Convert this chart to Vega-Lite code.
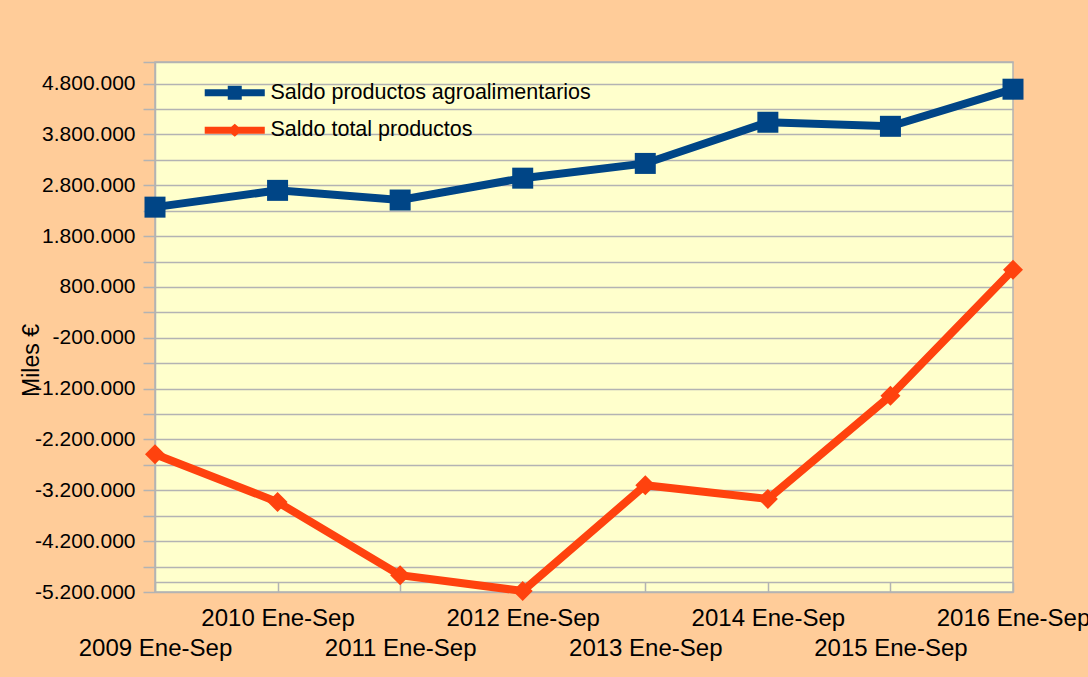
{
  "$schema": "https://vega.github.io/schema/vega-lite/v6.json",
  "width": 858,
  "height": 530,
  "autosize": {"type": "none"},
  "padding": {"left": 155, "top": 62, "right": 75, "bottom": 85},
  "background": "#FFCC99",
  "config": {
    "font": "Liberation Sans",
    "view": {"fill": "#FFFFCC", "stroke": "#B3B3B3", "strokeWidth": 1.5}
  },
  "data": {
    "values": [
      {"periodo": "2009 Ene-Sep", "serie": "Saldo productos agroalimentarios", "valor": 2370000},
      {"periodo": "2010 Ene-Sep", "serie": "Saldo productos agroalimentarios", "valor": 2700000},
      {"periodo": "2011 Ene-Sep", "serie": "Saldo productos agroalimentarios", "valor": 2510000},
      {"periodo": "2012 Ene-Sep", "serie": "Saldo productos agroalimentarios", "valor": 2940000},
      {"periodo": "2013 Ene-Sep", "serie": "Saldo productos agroalimentarios", "valor": 3230000},
      {"periodo": "2014 Ene-Sep", "serie": "Saldo productos agroalimentarios", "valor": 4040000},
      {"periodo": "2015 Ene-Sep", "serie": "Saldo productos agroalimentarios", "valor": 3960000},
      {"periodo": "2016 Ene-Sep", "serie": "Saldo productos agroalimentarios", "valor": 4690000},
      {"periodo": "2009 Ene-Sep", "serie": "Saldo total productos", "valor": -2490000},
      {"periodo": "2010 Ene-Sep", "serie": "Saldo total productos", "valor": -3430000},
      {"periodo": "2011 Ene-Sep", "serie": "Saldo total productos", "valor": -4870000},
      {"periodo": "2012 Ene-Sep", "serie": "Saldo total productos", "valor": -5180000},
      {"periodo": "2013 Ene-Sep", "serie": "Saldo total productos", "valor": -3100000},
      {"periodo": "2014 Ene-Sep", "serie": "Saldo total productos", "valor": -3370000},
      {"periodo": "2015 Ene-Sep", "serie": "Saldo total productos", "valor": -1340000},
      {"periodo": "2016 Ene-Sep", "serie": "Saldo total productos", "valor": 1140000}
    ]
  },
  "encoding": {
    "x": {
      "field": "periodo",
      "type": "ordinal",
      "scale": {"type": "point", "padding": 0},
      "axis": {
        "title": null,
        "offset": -10,
        "labelAngle": 0,
        "labelOverlap": false,
        "labelBound": false,
        "labelFlush": false,
        "labelFont": "Liberation Sans",
        "labelFontSize": 24,
        "labelColor": "#000000",
        "labelPadding": 14,
        "labelLineHeight": 30,
        "labelBaseline": "top",
        "labelExpr": "indexof(['2009 Ene-Sep','2011 Ene-Sep','2013 Ene-Sep','2015 Ene-Sep'], datum.value) >= 0 ? ['', datum.value] : datum.value",
        "domainColor": "#B3B3B3",
        "domainWidth": 1.5,
        "tickColor": "#B3B3B3",
        "tickWidth": 1.5,
        "tickSize": 10,
        "grid": false
      }
    },
    "y": {
      "field": "valor",
      "type": "quantitative",
      "scale": {"domain": [-5200000, 5225000], "nice": false, "zero": false},
      "axis": {
        "values": [-5200000, -4700000, -4200000, -3700000, -3200000, -2700000, -2200000, -1700000, -1200000, -700000, -200000, 300000, 800000, 1300000, 1800000, 2300000, 2800000, 3300000, 3800000, 4300000, 4800000, 5225000],
        "labelExpr": "(datum.value + 5200000) % 1000000 == 0 ? replace(replace(replace(format(datum.value, ','), ',', '.'), ',', '.'), '\u2212', '-') : ''",
        "grid": true,
        "gridColor": "#B3B3B3",
        "gridWidth": 1.5,
        "domainColor": "#B3B3B3",
        "domainWidth": 1.5,
        "tickColor": "#B3B3B3",
        "tickWidth": 1.5,
        "tickSize": 12,
        "labelFont": "Liberation Sans",
        "labelFontSize": 21,
        "labelColor": "#000000",
        "labelPadding": 8,
        "title": "Miles €",
        "titleFont": "Liberation Sans",
        "titleFontSize": 23,
        "titleFontWeight": "normal",
        "titleColor": "#000000",
        "titleAngle": 270,
        "titleAlign": "center",
        "titleBaseline": "middle",
        "titleX": -124,
        "titleY": 298
      }
    }
  },
  "layer": [
    {
      "transform": [{"filter": "datum.serie == 'Saldo productos agroalimentarios'"}],
      "mark": {"type": "line", "strokeWidth": 8, "color": "#004586"}
    },
    {
      "transform": [{"filter": "datum.serie == 'Saldo total productos'"}],
      "mark": {"type": "line", "strokeWidth": 8, "color": "#FF420E"}
    },
    {
      "transform": [{"filter": "datum.serie == 'Saldo productos agroalimentarios'"}],
      "mark": {"type": "point", "shape": "square", "filled": true, "size": 441, "opacity": 1, "color": "#004586"}
    },
    {
      "transform": [{"filter": "datum.serie == 'Saldo total productos'"}],
      "mark": {"type": "point", "shape": "diamond", "filled": true, "size": 400, "opacity": 1, "color": "#FF420E"}
    },
    {
      "mark": {"type": "point", "filled": true, "opacity": 0},
      "encoding": {
        "color": {
          "field": "serie",
          "type": "nominal",
          "scale": {
            "domain": ["Saldo productos agroalimentarios", "Saldo total productos"],
            "range": ["#004586", "#FF420E"]
          },
          "legend": {
            "orient": "none",
            "legendX": 69,
            "legendY": 20,
            "title": null,
            "padding": 0,
            "symbolSize": 196,
            "symbolOpacity": 1,
            "symbolStrokeWidth": 0,
            "labelFont": "Liberation Sans",
            "labelFontSize": 21.5,
            "labelColor": "#000000",
            "labelOffset": 25,
            "labelLimit": 500,
            "rowPadding": 14.5
          }
        },
        "shape": {
          "field": "serie",
          "type": "nominal",
          "scale": {
            "domain": ["Saldo productos agroalimentarios", "Saldo total productos"],
            "range": [
              "M-4.29,-0.5H-1V-1H1V-0.5H4.29V0.5H1V1H-1V0.5H-4.29Z",
              "M-4.29,-0.5H-0.5L0,-0.93L0.5,-0.5H4.29V0.5H0.5L0,0.93L-0.5,0.5H-4.29Z"
            ]
          },
          "legend": {
            "orient": "none",
            "legendX": 69,
            "legendY": 20,
            "title": null,
            "padding": 0,
            "symbolSize": 196,
            "symbolOpacity": 1,
            "symbolStrokeWidth": 0,
            "labelFont": "Liberation Sans",
            "labelFontSize": 21.5,
            "labelColor": "#000000",
            "labelOffset": 25,
            "labelLimit": 500,
            "rowPadding": 14.5
          }
        }
      }
    }
  ]
}
